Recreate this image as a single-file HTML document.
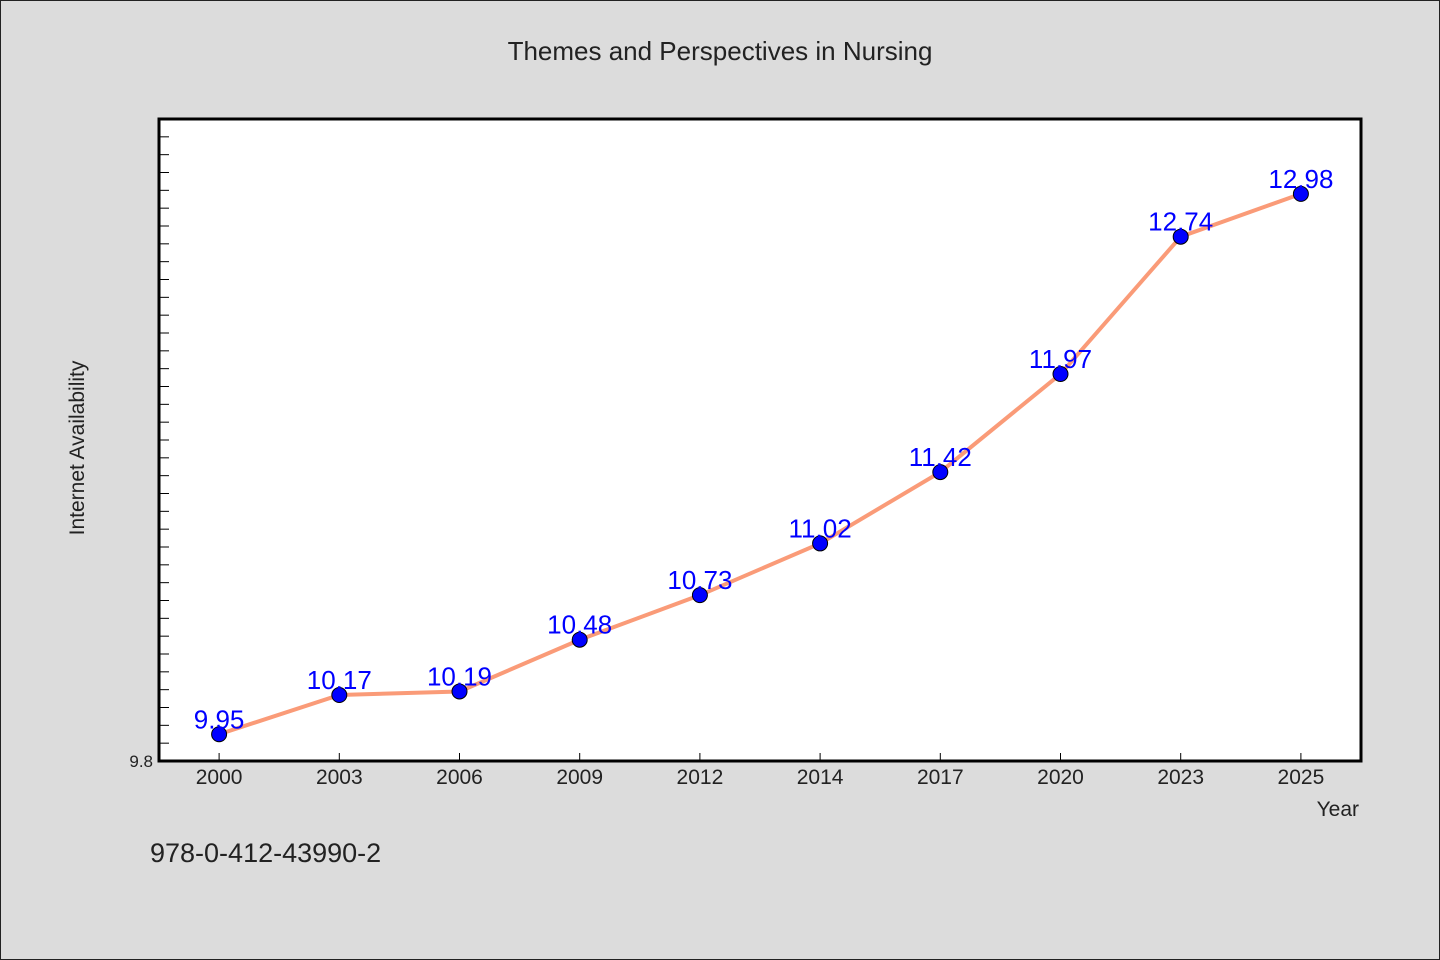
<!DOCTYPE html>
<html><head><meta charset="utf-8"><style>
body{margin:0;background:#dcdcdc;}
svg{display:block;font-family:"WenQuanYi Zen Hei","Liberation Sans",sans-serif;}
</style></head><body>
<svg id="chart" width="1440" height="960">
<rect x="0.5" y="0.5" width="1439" height="959" fill="#dcdcdc" stroke="#222"/>
<text x="720" y="60" text-anchor="middle" font-size="26" fill="#222">Themes and Perspectives in Nursing</text>
<rect x="159" y="119" width="1202" height="642" fill="#fff" stroke="#000" stroke-width="3"/>
<g id="yticks"></g><g id="xticks"></g><g id="series"></g>
<text x="153" y="767" text-anchor="end" font-size="17" fill="#222">9.8</text>
<text transform="translate(84,448) rotate(-90)" text-anchor="middle" font-size="21" fill="#222">Internet Availability</text>
<text x="1359" y="816" text-anchor="end" font-size="21" fill="#222">Year</text>
<text x="150" y="862" font-size="27" fill="#222">978-0-412-43990-2</text>
</svg>
<script>
const categories=["2000","2003","2006","2009","2012","2014","2017","2020","2023","2025"];
const values=[9.95,10.17,10.19,10.48,10.73,11.02,11.42,11.97,12.74,12.98];
const yMin=9.8,yMax=13.4;
const L=159,R=1361,T=119,B=761;
const NS="http://www.w3.org/2000/svg";
const bw=(R-L)/categories.length;
function xs(i){return L+bw*(i+0.5);}
function ys(v){return B-(v-yMin)/(yMax-yMin)*(B-T);}
function mk(t,a,p){const e=document.createElementNS(NS,t);for(const k in a)e.setAttribute(k,a[k]);p.appendChild(e);return e;}
const yt=document.getElementById('yticks');
for(let k=1;k<36;k++){const y=ys(yMin+k*0.1);
const t=mk('line',{x1:L,x2:L+10,y1:y,y2:y,stroke:'#000','stroke-width':1},yt);

}
const xt=document.getElementById('xticks');
categories.forEach((c,i)=>{const x=xs(i);
const t=mk('line',{x1:x,x2:x,y1:B,y2:B-8,stroke:'#000','stroke-width':1},xt);


const l=mk('text',{x:x,y:B+23,'text-anchor':'middle','font-size':21,fill:'#222'},xt);l.textContent=c;

});
const s=document.getElementById('series');
const line=mk('polyline',{points:values.map((v,i)=>xs(i)+','+ys(v)).join(' '),fill:'none',stroke:'#fa9b78','stroke-width':4},s);


values.forEach((v,i)=>{
const c=mk('circle',{cx:xs(i),cy:ys(v),r:7.5,fill:'#0000ff',stroke:'#000','stroke-width':1},s);


const l=mk('text',{x:xs(i),y:ys(v)-6,'text-anchor':'middle','font-size':26,fill:'#0000ff'},s);l.textContent=v.toFixed(2);

});
</script>
</body></html>
